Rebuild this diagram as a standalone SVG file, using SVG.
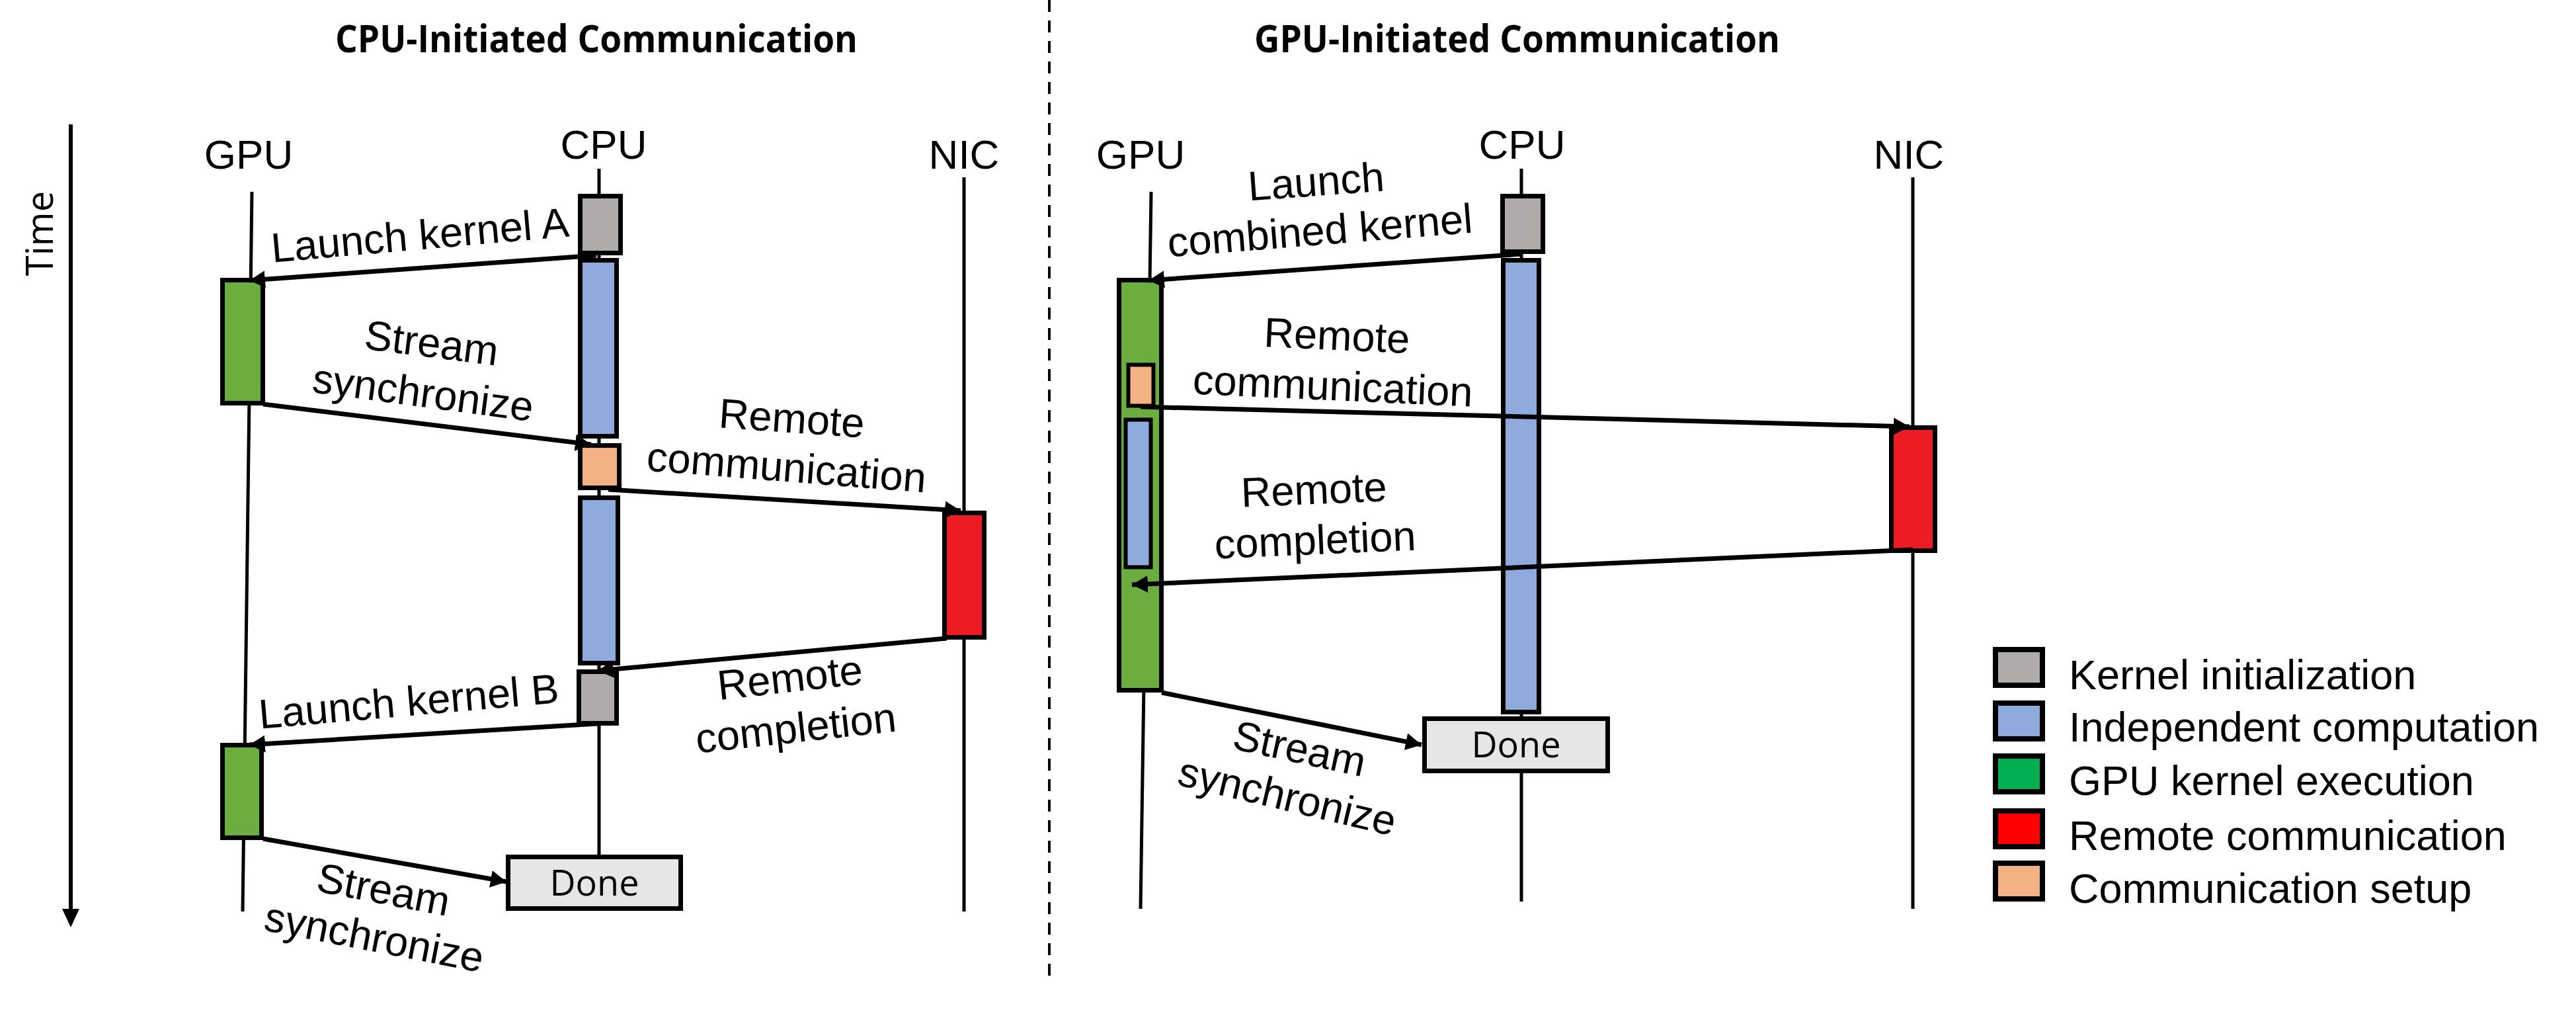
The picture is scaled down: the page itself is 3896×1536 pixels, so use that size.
<svg xmlns="http://www.w3.org/2000/svg" width="3896" height="1536" viewBox="0 0 3896 1536">
<defs>
<marker id="ah" markerUnits="userSpaceOnUse" markerWidth="26" markerHeight="28" refX="24" refY="14" orient="auto">
<path d="M0,1 L24,14 L0,27 z" fill="#000"/>
</marker>
<style>
.title{font-family:"Open Sans","Liberation Sans",sans-serif;font-weight:700;font-size:58px;fill:#000}
.lbl{font-family:"Liberation Sans",Arial,sans-serif;font-size:63px;fill:#000}
.hd{font-family:"Liberation Sans",Arial,sans-serif;font-size:62px;fill:#000;text-anchor:middle}
.mid{text-anchor:middle}
.life{stroke:#000;stroke-width:5;fill:none}
.box{stroke:#000;stroke-width:7}
.conn{stroke:#000;stroke-width:7;fill:none;marker-end:url(#ah)}
.grey{fill:#AFABAB}.blue{fill:#8FAADC}.green{fill:#6BAE3F}.red{fill:#ED1C24}.orange{fill:#F4B183}.done{fill:#E7E6E6}
.os{font-family:"Open Sans","DejaVu Sans",sans-serif;fill:#000}
</style>
</defs>
<rect width="3896" height="1536" fill="#fff"/>

<!-- Titles -->
<text class="title" x="507" y="79" textLength="790" lengthAdjust="spacingAndGlyphs">CPU-Initiated Communication</text>
<text class="title" x="1897" y="79" textLength="795" lengthAdjust="spacingAndGlyphs">GPU-Initiated Communication</text>

<!-- Separator -->
<line x1="1587" y1="0" x2="1587" y2="1488" stroke="#000" stroke-width="4" stroke-dasharray="18,13"/>

<!-- Time axis -->
<g id="time-axis">
<line x1="107" y1="188" x2="107" y2="1378" stroke="#000" stroke-width="6"/>
<path d="M94,1374 L120,1374 L107,1402 z" fill="#000"/>
<text class="os mid" font-size="56" transform="translate(80,353) rotate(-90)">Time</text>
</g>

<!-- Lifelines -->
<g id="lifelines">
<line class="life" x1="381" y1="290" x2="367" y2="1378"/>
<line class="life" x1="906" y1="255" x2="906" y2="1296"/>
<line class="life" x1="1458" y1="268" x2="1458" y2="1378"/>
<line class="life" x1="1741" y1="290" x2="1725" y2="1374"/>
<line class="life" x1="2301" y1="255" x2="2301" y2="1363"/>
<line class="life" x1="2893" y1="268" x2="2893" y2="1374"/>
</g>

<!-- Lifeline headers -->
<g id="hdr-gpu-l"><text class="hd" x="376" y="255">GPU</text></g>
<g id="hdr-cpu-l"><text class="hd" x="913" y="240">CPU</text></g>
<g id="hdr-nic-l"><text class="hd" x="1458" y="255">NIC</text></g>
<g id="hdr-gpu-r"><text class="hd" x="1725" y="255">GPU</text></g>
<g id="hdr-cpu-r"><text class="hd" x="2302" y="240">CPU</text></g>
<g id="hdr-nic-r"><text class="hd" x="2887" y="255">NIC</text></g>

<!-- Left panel nodes -->
<g id="cpu-kernel-init-a"><rect class="box grey" x="877.5" y="296.5" width="61" height="86"/></g>
<g id="cpu-compute-1"><rect class="box blue" x="877.5" y="393.5" width="55" height="266"/></g>
<g id="cpu-comm-setup"><rect class="box orange" x="877.5" y="673.5" width="59" height="64"/></g>
<g id="cpu-compute-2"><rect class="box blue" x="877.5" y="752.5" width="57" height="250"/></g>
<g id="cpu-kernel-init-b"><rect class="box grey" x="875.5" y="1015.5" width="57" height="78"/></g>
<g id="gpu-kernel-a"><rect class="box green" x="336.5" y="423.5" width="61" height="186"/></g>
<g id="gpu-kernel-b"><rect class="box green" x="336.5" y="1126.5" width="59" height="140"/></g>
<g id="nic-remote-l"><rect class="box red" x="1428.5" y="775.5" width="60" height="188"/></g>
<g id="done-l"><rect class="box done" x="768.5" y="1295.5" width="261" height="78"/><text class="os mid" font-size="54" x="899" y="1354">Done</text></g>

<!-- Right panel nodes -->
<g id="cpu-kernel-init-r"><rect class="box grey" x="2272.5" y="296.5" width="61" height="84"/></g>
<g id="cpu-compute-r"><rect class="box blue" x="2273.5" y="393.5" width="54" height="683"/></g>
<g id="done-r"><rect class="box done" x="2154.5" y="1086.5" width="277" height="79"/><text class="os mid" font-size="54" x="2293" y="1145">Done</text></g>
<g id="gpu-combined-kernel"><rect class="box green" x="1692.5" y="423.5" width="64" height="620"/>
<rect class="orange" x="1706.5" y="551.5" width="38" height="62" stroke="#000" stroke-width="6"/>
<rect class="blue" x="1702.5" y="634.5" width="38" height="223" stroke="#000" stroke-width="6"/></g>
<g id="nic-remote-r"><rect class="box red" x="2860.5" y="646.5" width="66" height="186"/></g>

<!-- Connectors -->
<g id="connectors">
<line class="conn" x1="902" y1="386" x2="377" y2="424"/>
<line class="conn" x1="398" y1="611" x2="894" y2="672"/>
<line class="conn" x1="920" y1="740" x2="1453" y2="772"/>
<line class="conn" x1="1432" y1="965" x2="904" y2="1014"/>
<line class="conn" x1="904" y1="1094" x2="377" y2="1126"/>
<line class="conn" x1="398" y1="1268" x2="766" y2="1333"/>
<line class="conn" x1="2301" y1="384" x2="1737" y2="424"/>
<line class="conn" x1="1725" y1="615" x2="2888" y2="645"/>
<line class="conn" x1="2893" y1="831" x2="1712" y2="884"/>
<line class="conn" x1="1757" y1="1047" x2="2150" y2="1126"/>
</g>

<!-- Connector labels -->
<g id="labels">
<text class="lbl mid" transform="translate(637,377) rotate(-5)">Launch kernel A</text>
<text class="lbl mid" transform="translate(650,540) rotate(7.2)">Stream</text>
<text class="lbl mid" transform="translate(637,615) rotate(7.6)">synchronize</text>
<text class="lbl mid" transform="translate(1196,654) rotate(4)">Remote</text>
<text class="lbl mid" transform="translate(1188,728) rotate(4.5)">communication</text>
<text class="lbl mid" transform="translate(1197,1046) rotate(-6.4)">Remote</text>
<text class="lbl mid" transform="translate(1206,1122) rotate(-6.3)">completion</text>
<text class="lbl mid" transform="translate(620,1082) rotate(-5)">Launch kernel B</text>
<text class="lbl mid" transform="translate(576,1366) rotate(10.8)">Stream</text>
<text class="lbl mid" transform="translate(562,1438) rotate(11)">synchronize</text>
<text class="lbl mid" transform="translate(1992,296) rotate(-4.2)">Launch</text>
<text class="lbl mid" transform="translate(1998,370) rotate(-4.6)">combined kernel</text>
<text class="lbl mid" transform="translate(2021,529) rotate(2.6)">Remote</text>
<text class="lbl mid" transform="translate(2015,605) rotate(2.6)">communication</text>
<text class="lbl mid" transform="translate(1988,762) rotate(-2.4)">Remote</text>
<text class="lbl mid" transform="translate(1990,838) rotate(-2.5)">completion</text>
<text class="lbl mid" transform="translate(1961,1153) rotate(12.2)">Stream</text>
<text class="lbl mid" transform="translate(1942,1225) rotate(13.4)">synchronize</text>
</g>

<!-- Legend -->
<g id="legend">
<g id="lg-kernel-init"><rect x="3018" y="982" width="71" height="54" fill="#AFABAB" stroke="#000" stroke-width="8"/><text class="lbl" x="3129" y="1042">Kernel initialization</text></g>
<g id="lg-indep-comp"><rect x="3018" y="1063" width="71" height="54" fill="#8FAADC" stroke="#000" stroke-width="8"/><text class="lbl" x="3129" y="1121">Independent computation</text></g>
<g id="lg-gpu-kernel"><rect x="3018" y="1143" width="71" height="54" fill="#00B050" stroke="#000" stroke-width="8"/><text class="lbl" x="3129" y="1202">GPU kernel execution</text></g>
<g id="lg-remote-comm"><rect x="3018" y="1226" width="71" height="54" fill="#FF0000" stroke="#000" stroke-width="8"/><text class="lbl" x="3129" y="1285">Remote communication</text></g>
<g id="lg-comm-setup"><rect x="3018" y="1305" width="71" height="54" fill="#F4B183" stroke="#000" stroke-width="8"/><text class="lbl" x="3129" y="1365">Communication setup</text></g>
</g>
</svg>
